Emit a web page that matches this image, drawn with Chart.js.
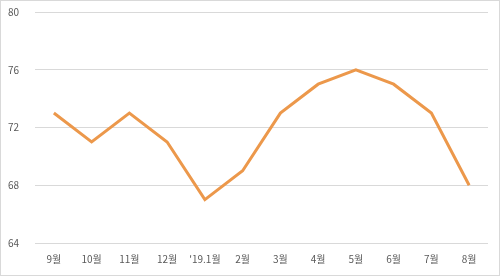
<!DOCTYPE html>
<html><head><meta charset="utf-8">
<script src="https://cdn.jsdelivr.net/npm/chart.js@4"></script>
<style>
html,body{margin:0;padding:0;background:#fff;}
#wrap{position:absolute;left:0;top:0;width:498px;height:274px;border:1px solid #D9D9D9;}
canvas{display:block;}
</style></head><body>
<div id="wrap"><canvas id="c" width="498" height="274"></canvas></div>
<script>
const categories = ["9월","10월","11월","12월","'19.1월","2월","3월","4월","5월","6월","7월","8월"];
const values = [73,71,73,71,67,69,73,75,76,75,73,68];
const yTicks = [64,68,72,76,80];

new Chart(document.getElementById('c'), {
  type: 'line',
  data: { labels: categories, datasets: [{ data: values, borderColor: '#EC984B', borderWidth: 3, pointRadius: 0, tension: 0, fill: false }] },
  options: {
    responsive: false, animation: false,
    layout: { autoPadding: false, padding: { left: 0, right: 11, top: 11, bottom: 0 } },
    plugins: { legend: { display: false }, tooltip: { enabled: false } },
    scales: {
      x: {
        offset: true,
        grid: { display: false },
        border: { display: false },
        ticks: { color: '#595959', font: { family: "'Noto Sans CJK KR'", size: 10 }, maxRotation: 0, padding: 2 },
        afterFit(s) { s.height = 32; }
      },
      y: {
        min: 64, max: 80,
        afterBuildTicks(s) { s.ticks = yTicks.map(v => ({ value: v })); },
        grid: { color: '#D9D9D9', lineWidth: 1, drawTicks: false },
        border: { display: false },
        ticks: { color: '#595959', font: { family: "'Noto Sans CJK KR'", size: 10 }, padding: 16 },
        afterFit(s) { s.width = 34; s.paddingTop = 0; s.paddingBottom = 0; }
      }
    }
  }
});
</script>
</body></html>
